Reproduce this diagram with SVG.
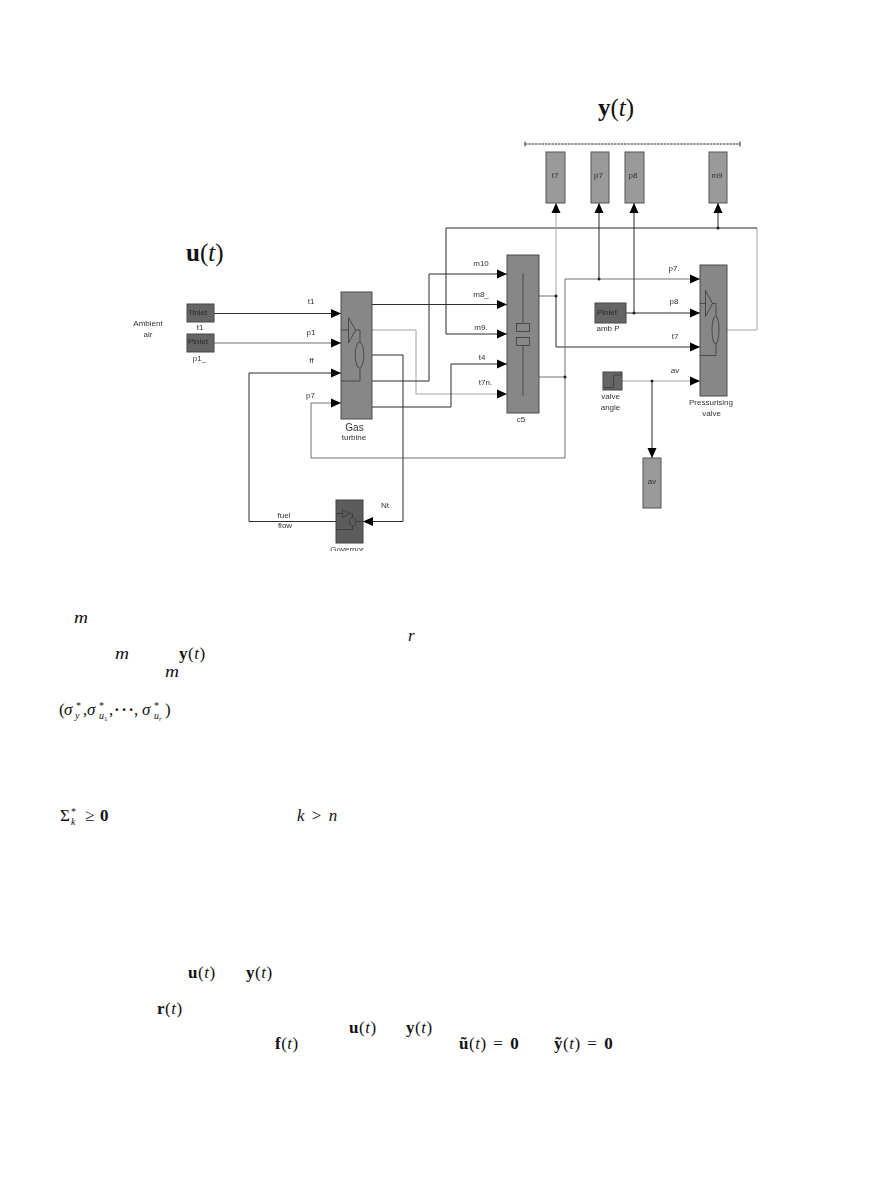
<svg xmlns="http://www.w3.org/2000/svg" width="891" height="1188" viewBox="0 0 891 1188">
  <style>
    .wire { fill: none; stroke: #2e2e2e; stroke-width: 1; }
    .pale { fill: none; stroke: #707070; stroke-width: 1; }
    .faint { fill: none; stroke: #a4a4a4; stroke-width: 1; }
    .arrow { marker-end: url(#head); }
    .glyph { fill: none; stroke: #3a3a3a; stroke-width: 0.8; }
    .main { fill: #878787; stroke: #4a4a4a; stroke-width: 1; }
    .src { fill: #656565; stroke: #484848; stroke-width: 1; }
    .sink { fill: #9a9a9a; stroke: #555; stroke-width: 1; }
    .lab { font-family: "Liberation Sans", Arial, sans-serif; font-size: 8px; fill: #333; text-anchor: middle; }
    .port { font-family: "Liberation Sans", Arial, sans-serif; font-size: 8px; fill: #2a2a2a; }
    .math { font-family: "Liberation Serif", "Times New Roman", serif; font-size: 17px; fill: #111; }
    .b { font-weight: bold; }
    .i { font-style: italic; }
    .s { font-size: 10px; }
    .ss { font-size: 7px; }
    .big { font-size: 25px; }
  </style>
  <defs>
    <marker id="head" markerUnits="userSpaceOnUse" markerWidth="11" markerHeight="11" refX="10" refY="5" orient="auto">
      <path d="M0 0.500 L10 5 L0 9.500 Z" fill="#000"/>
    </marker>
    <filter id="soft" x="-2%" y="-2%" width="104%" height="104%">
      <feGaussianBlur stdDeviation="0.4"/>
    </filter>
    <clipPath id="govClip"><rect x="320" y="540" width="60" height="11"/></clipPath>
  </defs>
  <rect width="891" height="1188" fill="#fff"/>

  <g filter="url(#soft)">
    <g id="connectors">
      <path class="wire arrow" d="M214 313.500H341"/>
      <path class="pale arrow" d="M214 343H341"/>
      <path class="wire arrow" d="M336 521.500H249V373H341"/>
      <path class="pale arrow" d="M565 377V458H311V403H341"/>
      <path class="wire arrow" d="M372 304.500H507"/>
      <path class="faint arrow" d="M372 330H416V394H507"/>
      <path class="wire arrow" d="M372 381H429V274H507"/>
      <path class="wire arrow" d="M372 407H451V364H507"/>
      <path class="wire arrow" d="M364 355H403V521.500H363"/>
      <path class="faint" d="M719 330H757V228"/>
      <path class="wire arrow" d="M757 228H446V334H507"/>
      <path class="wire arrow" d="M718 228V203"/>
      <path class="pale" d="M539 296H556"/>
      <path class="faint arrow" d="M556 296V203"/>
      <path class="wire arrow" d="M556 296V347H700"/>
      <path class="pale" d="M539 377H565"/>
      <path class="pale arrow" d="M565 377V279H700"/>
      <path class="wire arrow" d="M599 279V203"/>
      <path class="wire arrow" d="M626 313H700"/>
      <path class="wire arrow" d="M634 313V203"/>
      <path class="faint arrow" d="M622 381H700"/>
      <path class="wire arrow" d="M652 381V458"/>
      <path class="wire" d="M525 144H740" stroke-dasharray="2.500 0.800" stroke-width="0.700"/>
      <path class="wire" d="M525 141.500V146.500M740 141.500V146.500"/>
      <g fill="#222">
        <circle cx="556" cy="296" r="1.500"/><circle cx="565" cy="377" r="1.500"/>
        <circle cx="599" cy="279" r="1.500"/><circle cx="634" cy="313" r="1.500"/>
        <circle cx="652" cy="381" r="1.500"/><circle cx="718" cy="228" r="1.500"/>
      </g>
    </g>

    <g id="tinlet">
      <rect class="src" x="187" y="304" width="27" height="18"/>
      <text class="port" x="188" y="314.500">Tinlet</text>
      <text class="lab" x="200" y="330">t1</text>
    </g>
    <g id="pinlet">
      <rect class="src" x="187" y="334" width="27" height="18"/>
      <text class="port" x="188" y="343.500">Pinlet</text>
      <text class="lab" x="199.500" y="361">p1_</text>
    </g>
    <g id="ambient">
      <text class="lab" x="148" y="325.500">Ambient</text>
      <text class="lab" x="148" y="336.500">air</text>
    </g>
    <g id="gas-turbine">
      <rect class="main" x="341" y="292" width="31" height="127"/>
      <path class="glyph" d="M348.500 317.500L355.500 330L348.500 343ZM341 330H348.500M355.500 330H360V342.500M360 368V381H341"/>
      <ellipse class="glyph" cx="359.500" cy="355" rx="4.300" ry="13"/>
      <text class="lab" x="354.500" y="430.500" style="font-size:10px">Gas</text>
      <text class="lab" x="354" y="439.500">turbine</text>
    </g>
    <g id="governor">
      <rect x="336" y="500" width="27" height="43" fill="#5c5c5c" stroke="#444"/>
      <path class="glyph" d="M342.500 509.500L350 513.500L342.500 517.500ZM336 513.500H342.500M350 513.500H352.500V517.500M352.500 526V529.500H336M356 521.500H363"/>
      <ellipse class="glyph" cx="352.500" cy="521.700" rx="3" ry="4.300"/>
      <text class="lab" x="347" y="551.500" clip-path="url(#govClip)">Governor</text>
    </g>
    <g id="c5">
      <rect class="main" x="507" y="255" width="32" height="158"/>
      <path class="glyph" d="M523 273V323M523 346V396"/>
      <rect class="glyph" x="516.500" y="323.500" width="13" height="8"/>
      <rect class="glyph" x="516.500" y="337.500" width="13" height="8"/>
      <text class="lab" x="521" y="422">c5</text>
    </g>
    <g id="pressurising-valve">
      <rect class="main" x="700" y="265" width="27" height="131"/>
      <path class="glyph" d="M705.500 290.500L712.500 303.500L705.500 316.500ZM700 303.500H705.500M712.500 303.500H716V316M716 343V355.500H700"/>
      <ellipse class="glyph" cx="715.500" cy="330" rx="3.500" ry="14"/>
      <text class="lab" x="711" y="404.500">Pressurising</text>
      <text class="lab" x="711.500" y="415.500">valve</text>
    </g>
    <g id="amb-p">
      <rect class="src" x="595" y="303" width="31" height="20"/>
      <text class="port" x="597" y="314.500">Pinlet</text>
      <text class="lab" x="608" y="331">amb P</text>
    </g>
    <g id="valve-angle">
      <rect class="src" x="603" y="372" width="19" height="18"/>
      <path class="glyph" d="M604 387.500H613.500V375H621.500" stroke-width="1"/>
      <text class="lab" x="610.500" y="398.500">valve</text>
      <text class="lab" x="610.500" y="409.500">angle</text>
    </g>
    <g id="out-t7"><rect class="sink" x="546" y="152" width="19" height="51"/><text class="lab" x="555" y="178">t7</text></g>
    <g id="out-p7"><rect class="sink" x="591" y="152" width="18" height="51"/><text class="lab" x="598.500" y="178">p7</text></g>
    <g id="out-p8"><rect class="sink" x="625" y="152" width="19" height="51"/><text class="lab" x="633" y="178">p8</text></g>
    <g id="out-m9"><rect class="sink" x="709" y="152" width="18" height="51"/><text class="lab" x="717" y="178">m9</text></g>
    <g id="out-av"><rect class="sink" x="643" y="458" width="18" height="50"/><text class="lab" x="652" y="483.500">av</text></g>

    <g id="signal-labels">
      <text class="lab" x="311" y="304">t1</text>
      <text class="lab" x="311" y="334.500">p1</text>
      <text class="lab" x="311.500" y="363">ff</text>
      <text class="lab" x="310.500" y="398">p7</text>
      <text class="lab" x="385" y="508">Nt</text>
      <text class="lab" x="284" y="517.500">fuel</text>
      <text class="lab" x="285" y="528">flow</text>
      <text class="lab" x="481" y="265.500">m10</text>
      <text class="lab" x="481" y="296.500">m8_</text>
      <text class="lab" x="481" y="329.500">m9.</text>
      <text class="lab" x="482" y="360">t4</text>
      <text class="lab" x="485.500" y="385">t7n.</text>
      <text class="lab" x="674" y="270.500">p7.</text>
      <text class="lab" x="674" y="304">p8</text>
      <text class="lab" x="675" y="338.500">t7</text>
      <text class="lab" x="675" y="372.500">av</text>
    </g>
  </g>

  <g id="vector-labels" class="math">
    <text x="598" y="116" class="big"><tspan class="b">y</tspan>(<tspan class="i">t</tspan>)</text>
    <text x="186" y="261" class="big"><tspan class="b">u</tspan>(<tspan class="i">t</tspan>)</text>
  </g>

  <g id="inline-math" class="math">
    <text class="i" x="74" y="623" textLength="14" lengthAdjust="spacingAndGlyphs">m</text>
    <text class="i" x="408" y="641">r</text>
    <text class="i" x="115" y="659" textLength="14" lengthAdjust="spacingAndGlyphs">m</text>
    <text x="179" y="659" letter-spacing="0.500"><tspan class="b">y</tspan>(<tspan class="i">t</tspan>)</text>
    <text class="i" x="165" y="677" textLength="14" lengthAdjust="spacingAndGlyphs">m</text>

    <text x="59" y="715">(</text>
    <text class="i" x="64" y="715">σ</text>
    <text class="s" x="76" y="709">*</text>
    <text class="s i" x="75" y="719">y</text>
    <text x="83" y="715">,</text>
    <text class="i" x="87" y="715">σ</text>
    <text class="s" x="99" y="709">*</text>
    <text x="99" y="719"><tspan class="s i">u</tspan><tspan class="ss" dy="2">1</tspan></text>
    <text x="109" y="715">,</text>
    <text x="114" y="715" letter-spacing="1.500" class="b">···</text>
    <text x="134" y="715">,</text>
    <text class="i" x="142" y="715">σ</text>
    <text class="s" x="154" y="709">*</text>
    <text x="154" y="719"><tspan class="s i">u</tspan><tspan class="ss i" dy="2">r</tspan></text>
    <text x="165" y="715">)</text>

    <text x="60" y="821">Σ</text>
    <text class="s" x="71" y="815">*</text>
    <text class="s i" x="71" y="825">k</text>
    <text x="85" y="821">≥</text>
    <text class="b" x="100" y="821">0</text>
    <text x="297" y="821" word-spacing="3"><tspan class="i">k</tspan> &gt; <tspan class="i">n</tspan></text>

    <text x="188" y="978" letter-spacing="0.500"><tspan class="b">u</tspan>(<tspan class="i">t</tspan>)</text>
    <text x="246" y="978" letter-spacing="0.500"><tspan class="b">y</tspan>(<tspan class="i">t</tspan>)</text>
    <text x="157" y="1014" letter-spacing="0.500"><tspan class="b">r</tspan>(<tspan class="i">t</tspan>)</text>
    <text x="349" y="1033" letter-spacing="0.500"><tspan class="b">u</tspan>(<tspan class="i">t</tspan>)</text>
    <text x="406" y="1033" letter-spacing="0.500"><tspan class="b">y</tspan>(<tspan class="i">t</tspan>)</text>
    <text x="275" y="1049" letter-spacing="0.500"><tspan class="b">f</tspan>(<tspan class="i">t</tspan>)</text>
    <text x="459" y="1049" letter-spacing="0.500" word-spacing="2"><tspan class="b">ũ</tspan>(<tspan class="i">t</tspan>) = <tspan class="b">0</tspan></text>
    <text x="554" y="1049" letter-spacing="0.500" word-spacing="2"><tspan class="b">ỹ</tspan>(<tspan class="i">t</tspan>) = <tspan class="b">0</tspan></text>
  </g>
</svg>
